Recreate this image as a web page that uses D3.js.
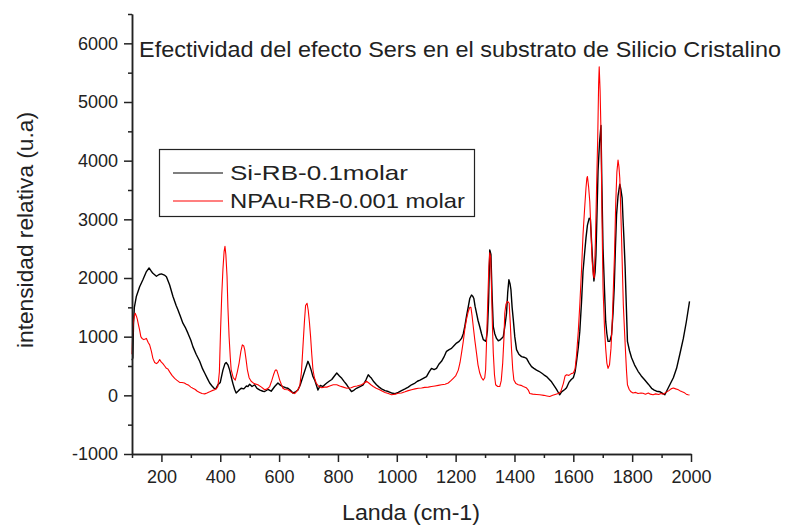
<!DOCTYPE html>
<html>
<head>
<meta charset="utf-8">
<script src="https://cdn.jsdelivr.net/npm/d3@7/dist/d3.min.js"></script>
<style>
  body { margin: 0; background: #fff; }
  svg text { font-family: Arial, "Liberation Sans", sans-serif; fill: #222; }
  .axis path, .axis line { stroke: #222; stroke-width: 1.5; }
</style>
</head>
<body>
<div id="chart"></div>
<script>
// Si-RB-0.1molar (black)
var siLanda = [100,103,105,108,115,126,137,149,158,165,171,183,192,200,210,217,228,239,250,256,265,273,281,290,300,307,318,330,340,347,356,364,372,379,385,392,400,409,416,420,426,432,438,443,449,454,462,471,480,489,494,500,508,517,525,535,545,551,562,573,585,596,605,613,622,630,640,647,656,664,672,681,690,698,703,709,715,721,732,740,749,755,762,770,779,788,796,805,813,822,830,838,846,855,863,875,886,895,903,908,914,922,931,940,948,960,971,982,994,1005,1016,1028,1039,1050,1062,1070,1079,1090,1101,1110,1118,1127,1135,1143,1152,1160,1169,1178,1186,1195,1203,1212,1220,1226,1231,1237,1243,1248,1254,1258,1262,1266,1271,1276,1282,1288,1294,1303,1308,1312,1316,1320,1324,1328,1333,1339,1345,1350,1356,1362,1368,1373,1377,1381,1385,1388,1392,1396,1401,1407,1415,1424,1432,1441,1450,1458,1466,1475,1483,1492,1500,1509,1517,1526,1534,1543,1550,1554,1560,1571,1577,1585,1593,1600,1606,1611,1617,1622,1628,1633,1638,1643,1648,1654,1658,1662,1666,1670,1674,1677,1681,1684,1689,1694,1697,1701,1706,1710,1714,1718,1724,1730,1735,1739,1743,1747,1752,1758,1762,1766,1769,1772,1776,1779,1784,1791,1798,1808,1820,1831,1843,1855,1866,1875,1883,1895,1905,1911,1920,1928,1940,1951,1962,1974,1984,1995];
var siInt = [600,640,1200,1500,1690,1850,1970,2110,2170,2120,2080,2030,2060,2070,2050,2020,1880,1690,1530,1460,1340,1230,1160,1060,940,830,700,580,450,380,290,210,160,120,110,180,220,430,540,560,520,430,300,200,100,40,80,120,110,160,150,190,150,180,120,90,70,65,100,70,150,210,170,150,130,120,80,40,60,90,180,320,460,580,520,430,320,260,90,170,150,180,210,240,270,330,380,330,290,230,180,120,65,90,120,150,180,260,350,320,290,230,180,140,110,80,65,40,30,50,80,110,140,180,210,240,260,290,320,400,460,440,460,530,580,650,750,780,800,850,890,920,970,1050,1170,1350,1510,1650,1710,1690,1650,1520,1400,1280,1170,1050,950,920,1100,1600,2480,2400,1700,1170,1050,970,930,940,970,1000,1200,1400,1750,1970,1900,1800,1500,1290,1000,780,700,660,650,630,550,490,460,430,410,380,350,320,280,230,170,100,40,10,60,100,130,220,270,300,400,580,820,1090,1600,2110,2400,2680,2900,3020,3000,2620,2250,1950,2100,2400,3200,3820,4300,4600,3600,2500,1800,1260,1050,920,920,1030,1400,1830,2500,3080,3400,3600,3500,3360,3000,2680,2200,1710,920,760,640,520,410,330,260,190,120,90,70,60,30,10,100,180,300,460,700,970,1250,1600];

// NPAu-RB-0.001 molar (red)
var npLanda = [100,103,106,111,115,118,122,126,130,134,140,145,149,155,160,166,171,177,183,188,194,199,205,211,217,222,228,236,245,252,262,270,278,285,293,300,307,315,322,330,338,347,355,364,372,381,388,392,397,401,405,409,413,416,419,423,426,430,434,437,444,451,458,464,470,475,480,483,488,492,498,505,515,528,540,551,560,568,575,581,587,592,597,602,608,613,620,630,640,647,653,662,670,676,681,686,690,695,699,703,707,711,715,720,726,735,745,753,762,772,784,796,806,818,830,845,855,865,880,890,897,905,912,920,930,940,948,960,971,982,995,1005,1016,1028,1039,1050,1062,1073,1084,1095,1107,1118,1130,1141,1152,1164,1175,1184,1192,1200,1209,1215,1220,1226,1231,1237,1243,1248,1252,1256,1260,1265,1271,1276,1282,1288,1294,1299,1302,1305,1309,1313,1316,1319,1322,1325,1328,1332,1336,1343,1350,1355,1360,1364,1367,1371,1375,1379,1382,1386,1390,1394,1398,1405,1413,1422,1430,1440,1447,1452,1462,1475,1486,1500,1510,1520,1530,1541,1549,1557,1566,1572,1577,1585,1593,1600,1606,1611,1617,1622,1628,1633,1638,1643,1646,1648,1652,1656,1660,1664,1668,1671,1675,1679,1683,1686,1688,1691,1694,1697,1701,1706,1710,1714,1718,1723,1728,1732,1735,1740,1744,1748,1752,1755,1758,1761,1764,1767,1770,1774,1778,1781,1784,1790,1796,1803,1812,1820,1830,1837,1845,1855,1862,1871,1880,1890,1898,1905,1915,1925,1932,1940,1948,1955,1962,1968,1976,1984,1990,1995];
var npInt = [700,1150,1300,1400,1350,1300,1200,1110,1000,970,950,960,970,900,860,750,630,560,540,560,610,570,540,500,460,450,400,340,290,260,220,220,210,190,170,140,120,100,70,50,30,25,40,60,80,95,120,150,400,1100,1700,2140,2450,2540,2400,2030,1500,1000,650,440,300,260,400,550,750,860,840,780,600,440,300,240,200,180,140,95,110,150,250,350,430,430,350,260,180,120,100,95,60,40,30,80,150,400,830,1250,1530,1570,1450,1250,1000,700,440,300,210,150,130,140,140,160,180,180,160,140,120,130,150,160,180,210,240,210,180,150,120,100,80,50,30,10,20,35,40,60,80,95,110,120,125,135,140,150,160,170,180,190,210,250,290,330,430,560,720,920,1120,1300,1430,1500,1500,1350,1170,950,720,520,380,300,260,300,440,900,1570,2200,2430,2350,1800,1200,720,350,180,150,150,250,550,950,1400,1550,1600,1590,1570,1200,780,450,260,200,180,170,150,130,90,30,20,15,10,0,-10,-20,0,20,30,60,200,330,350,340,370,380,450,690,1100,1540,2150,2740,3150,3530,3700,3730,3550,3300,2800,2280,2050,2000,2600,3530,4400,5300,5600,5200,4500,3200,1830,1150,800,550,460,520,800,1200,1650,2400,3250,3800,4010,3900,3700,3200,2680,2100,1540,1100,690,400,180,100,60,40,50,30,40,35,20,40,20,10,25,15,30,20,50,80,110,125,110,100,80,65,50,20,10,5];

var xMajor = [200,400,600,800,1000,1200,1400,1600,1800,2000];
var xMinor = [100,300,500,700,900,1100,1300,1500,1700,1900];
var yMajor = [-1000,0,1000,2000,3000,4000,5000,6000];
var yMinor = [-500,500,1500,2500,3500,4500,5500,6500];

var seriesNames = ["Si-RB-0.1molar", "NPAu-RB-0.001 molar"];
var seriesColours = ["#000000", "#ff0000"];

var width = 785, height = 525;
var plotLeft = 132, plotRight = 691, plotTop = 14, plotBottom = 454;

var svg = d3.select("#chart").append("svg")
	.attr("width", width)
	.attr("height", height);

var x = d3.scaleLinear().domain([100, 2000]).range([plotLeft, plotRight]);
var y = d3.scaleLinear().domain([-1000, 6500]).range([plotBottom, plotTop]);

// curves (red drawn over black)
var line = d3.line()
	.x(function (d) { return x(d[0]); })
	.y(function (d) { return y(d[1]); });

var siData = siLanda.map(function (v, i) { return [v, siInt[i]]; });
var npData = npLanda.map(function (v, i) { return [v, npInt[i]]; });

svg.append("path")
	.datum(siData)
	.attr("fill", "none")
	.attr("stroke", seriesColours[0])
	.attr("stroke-width", 1.4)
	.attr("stroke-linejoin", "round")
	.attr("d", line);

svg.append("path")
	.datum(npData)
	.attr("fill", "none")
	.attr("stroke", seriesColours[1])
	.attr("stroke-width", 1.1)
	.attr("stroke-linejoin", "round")
	.attr("d", line);

// axes (plain hyphen for negatives, no thousands separator)
var fmt = function (d) { return String(d); };
svg.append("g")
	.attr("class", "axis")
	.attr("transform", "translate(0," + plotBottom + ")")
	.call(d3.axisBottom(x).tickValues(xMinor).tickSize(4).tickSizeOuter(0).tickFormat(""));
svg.append("g")
	.attr("class", "axis")
	.attr("transform", "translate(0," + plotBottom + ")")
	.call(d3.axisBottom(x).tickValues(xMajor).tickSize(8).tickSizeOuter(0).tickPadding(8).tickFormat(fmt))
	.selectAll("text")
	.style("font-size", "18px");

svg.append("g")
	.attr("class", "axis")
	.attr("transform", "translate(" + plotLeft + ",0)")
	.call(d3.axisLeft(y).tickValues(yMinor).tickSize(4).tickSizeOuter(0).tickFormat(""));
svg.append("g")
	.attr("class", "axis")
	.attr("transform", "translate(" + plotLeft + ",0)")
	.call(d3.axisLeft(y).tickValues(yMajor).tickSize(8).tickSizeOuter(0).tickPadding(6).tickFormat(fmt))
	.selectAll("text")
	.style("font-size", "18px");

svg.selectAll(".domain").attr("stroke-width", 1.6);

// title inside plot
svg.append("text")
	.attr("x", 139)
	.attr("y", 57)
	.attr("textLength", 642)
	.attr("lengthAdjust", "spacingAndGlyphs")
	.style("font-size", "22px")
	.text("Efectividad del efecto Sers en el substrato de Silicio Cristalino");

// axis titles
svg.append("text")
	.attr("x", 342)
	.attr("y", 520)
	.attr("textLength", 138)
	.attr("lengthAdjust", "spacingAndGlyphs")
	.style("font-size", "22px")
	.text("Landa (cm-1)");

svg.append("text")
	.attr("transform", "translate(33,348) rotate(-90)")
	.attr("textLength", 236)
	.attr("lengthAdjust", "spacingAndGlyphs")
	.style("font-size", "22px")
	.text("intensidad relativa (u.a)");

// legend
var legend = svg.append("g");
legend.append("rect")
	.attr("x", 159.5)
	.attr("y", 149.5)
	.attr("width", 315)
	.attr("height", 67)
	.attr("fill", "#fff")
	.attr("stroke", "#222")
	.attr("stroke-width", 1.2);

var legendWidths = [178, 235];
seriesNames.forEach(function (name, i) {
	var ly = 173 + i * 28;
	legend.append("line")
		.attr("x1", 173).attr("x2", 223)
		.attr("y1", ly).attr("y2", ly)
		.attr("stroke", seriesColours[i])
		.attr("stroke-width", 1.2);
	legend.append("text")
		.attr("x", 230)
		.attr("y", ly + 7)
		.attr("textLength", legendWidths[i])
		.attr("lengthAdjust", "spacingAndGlyphs")
		.style("font-size", "21px")
		.text(name);
});
</script>
</body>
</html>
